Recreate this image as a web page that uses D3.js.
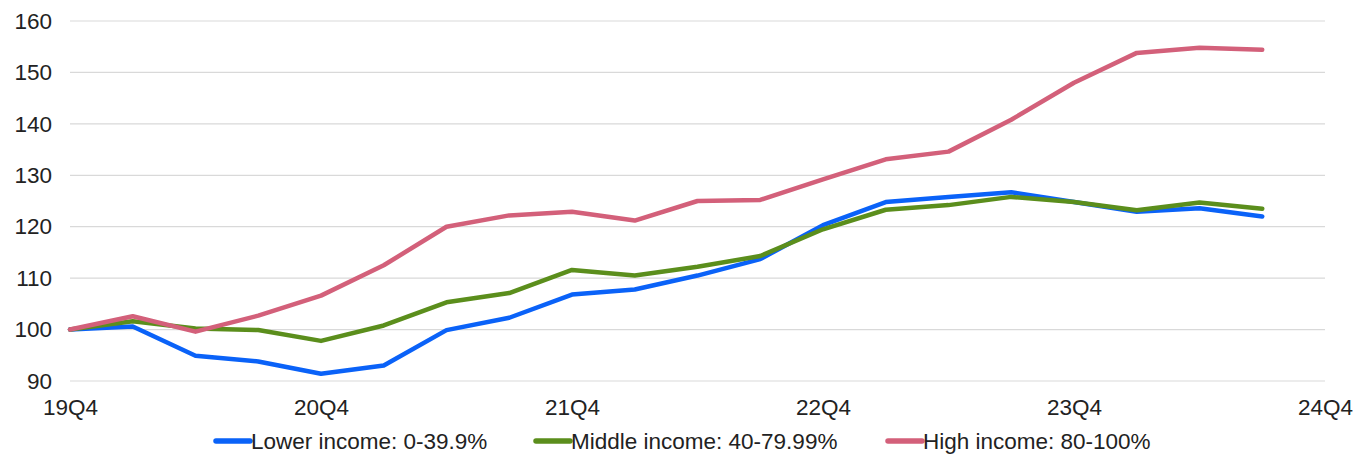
<!DOCTYPE html>
<html>
<head>
<meta charset="utf-8">
<script src="https://cdn.jsdelivr.net/npm/d3@7"></script>
<style>
  html, body { margin: 0; padding: 0; background: #fff; }
  svg { display: block; font-family: "Liberation Sans", Arial, sans-serif; }
</style>
</head>
<body>
<svg id="chart" width="1360" height="455"></svg>
<script>
// Quarterly index, 19Q4 = 100
const quarters = ["19Q4","20Q1","20Q2","20Q3","20Q4","21Q1","21Q2","21Q3","21Q4","22Q1",
                  "22Q2","22Q3","22Q4","23Q1","23Q2","23Q3","23Q4","24Q1","24Q2","24Q3"];
const lowerIncome  = [100, 100.6, 94.9, 93.8, 91.4, 93.0, 99.9, 102.3, 106.8, 107.8,
                      110.5, 113.7, 120.3, 124.8, 125.8, 126.7, 124.8, 122.9, 123.6, 122.0];
const middleIncome = [100, 101.6, 100.2, 99.9, 97.8, 100.8, 105.3, 107.1, 111.6, 110.5,
                      112.2, 114.3, 119.5, 123.3, 124.2, 125.8, 124.8, 123.2, 124.7, 123.5];
const highIncome   = [100, 102.6, 99.6, 102.7, 106.6, 112.5, 120.0, 122.2, 122.9, 121.2,
                      125.0, 125.2, 129.2, 133.1, 134.6, 140.8, 148.0, 153.8, 154.8, 154.4];
const yTicks = [90, 100, 110, 120, 130, 140, 150, 160];
const xTickLabels = ["19Q4","20Q4","21Q4","22Q4","23Q4","24Q4"];

const series = [
  { name: "Lower income: 0-39.9%",     values: lowerIncome,  color: "#0a62f8" },
  { name: "Middle income: 40-79.99%",  values: middleIncome, color: "#5b8e1c" },
  { name: "High income: 80-100%",      values: highIncome,   color: "#d3607a" }
];

const svg = d3.select("#chart");
const plotLeft = 70, plotRight = 1325, plotTop = 21, plotBottom = 381;
const fontSize = 22.5;

// x runs over quarter positions 0..20 (19Q4 .. 24Q4)
const x = d3.scaleLinear().domain([0, 20]).range([plotLeft, plotRight]);
const y = d3.scaleLinear().domain([90, 160]).range([plotBottom, plotTop]);

// gridlines
svg.append("g")
  .selectAll("line")
  .data(yTicks)
  .join("line")
  .attr("x1", plotLeft).attr("x2", plotRight)
  .attr("y1", d => y(d)).attr("y2", d => y(d))
  .attr("stroke", "#d9d9d9").attr("stroke-width", 1.2);

// y axis labels
const yAxis = svg.append("g")
  .attr("transform", `translate(${plotLeft},0)`)
  .call(d3.axisLeft(y).tickValues(yTicks).tickSize(0).tickPadding(18));
yAxis.select(".domain").remove();
yAxis.selectAll("text")
  .attr("font-size", fontSize).attr("fill", "#222")
  .attr("font-family", "'Liberation Sans', Arial, sans-serif");

// x axis labels, one per year
const xAxis = svg.append("g")
  .attr("transform", `translate(0,${plotBottom})`)
  .call(d3.axisBottom(x)
    .tickValues(xTickLabels.map((_, i) => i * 4))
    .tickFormat((d, i) => xTickLabels[i])
    .tickSize(0).tickPadding(18));
xAxis.select(".domain").remove();
xAxis.selectAll("text")
  .attr("font-size", fontSize).attr("fill", "#222")
  .attr("font-family", "'Liberation Sans', Arial, sans-serif");

// series lines
const line = d3.line()
  .x((d, i) => x(i))
  .y(d => y(d));

svg.append("g")
  .selectAll("path")
  .data(series)
  .join("path")
  .attr("d", d => line(d.values))
  .attr("fill", "none")
  .attr("stroke", d => d.color)
  .attr("stroke-width", 4.5)
  .attr("stroke-linejoin", "round")
  .attr("stroke-linecap", "round");

// legend
const legendX = [215, 535, 887];
const legend = svg.append("g")
  .selectAll("g")
  .data(series)
  .join("g")
  .attr("transform", (d, i) => `translate(${legendX[i]},441)`);
legend.append("line")
  .attr("x1", 1).attr("x2", 35)
  .attr("y1", 0).attr("y2", 0)
  .attr("stroke", d => d.color)
  .attr("stroke-width", 5.5)
  .attr("stroke-linecap", "round");
legend.append("text")
  .attr("x", 36).attr("y", 8)
  .attr("font-size", fontSize)
  .attr("fill", "#222")
  .text(d => d.name);
</script>
</body>
</html>
